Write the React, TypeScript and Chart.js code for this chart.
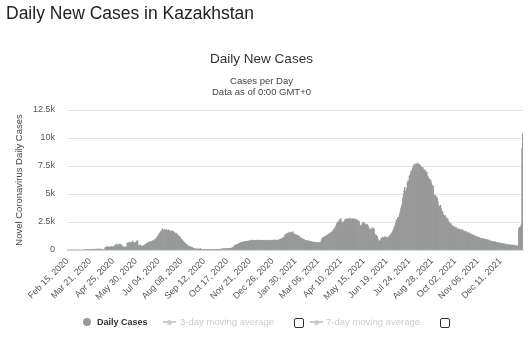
import React, { useEffect, useRef } from 'react';
import { Chart, registerables } from 'chart.js';

Chart.register(...registerables);

// First day of the series (Feb 15, 2020) and the spacing of the shown date ticks
const START_YEAR = 2020;
const START_MONTH = 1; // February (0-based)
const START_DAY = 15;
const TICK_EVERY = 35;
const MONTH_NAMES = ['Jan', 'Feb', 'Mar', 'Apr', 'May', 'Jun', 'Jul', 'Aug', 'Sep', 'Oct', 'Nov', 'Dec'];

const Y_MAX = 12500;
const Y_STEP = 2500;

// Daily new cases, one value per day from Feb 15, 2020
const DAILY_CASES = [
  0, 0, 0, 0, 0, 0, 0, 0, 0, 0,
  0, 0, 0, 0, 0, 0, 0, 0, 0, 0,
  0, 0, 0, 0, 0, 0, 0, 9, 4, 6,
  8, 17, 12, 16, 22, 11, 14, 29, 21, 25,
  38, 30, 44, 72, 65, 80, 58, 90, 76, 85,
  70, 62, 88, 40, 35, 45, 32, 38, 210, 260,
  240, 280, 300, 250, 270, 230, 290, 310, 260, 280,
  300, 270, 320, 420, 460, 380, 540, 450, 410, 500,
  470, 560, 430, 390, 450, 260, 240, 280, 250, 230,
  270, 320, 620, 650, 600, 700, 640, 620, 680, 660,
  810, 700, 650, 620, 680, 640, 720, 830, 790, 420,
  400, 380, 430, 390, 350, 300, 340, 380, 420, 460,
  500, 540, 560, 620, 660, 700, 680, 720, 760, 700,
  800, 830, 780, 850, 900, 1000, 960, 1080, 1180, 1250,
  1350, 1450, 1500, 1650, 1600, 1750, 1900, 1800, 1750, 1850,
  1700, 1780, 1820, 1750, 1680, 1800, 1720, 1760, 1650, 1700,
  1680, 1720, 1600, 1650, 1580, 1520, 1480, 1500, 1420, 1380,
  1300, 1250, 1200, 1150, 1050, 950, 900, 850, 780, 720,
  650, 600, 560, 480, 440, 400, 360, 330, 300, 280,
  250, 230, 200, 180, 140, 120, 100, 110, 90, 95,
  80, 85, 70, 90, 150, 60, 40, 50, 30, 40,
  35, 45, 40, 30, 50, 45, 38, 42, 55, 40,
  48, 52, 44, 50, 58, 46, 55, 60, 52, 48,
  58, 62, 55, 60, 66, 70, 64, 95, 105, 110,
  100, 115, 120, 108, 112, 125, 130, 118, 135, 140,
  130, 150, 170, 190, 220, 250, 300, 400, 430, 460,
  480, 500, 520, 560, 600, 620, 660, 640, 700, 680,
  720, 700, 740, 760, 730, 780, 800, 770, 790, 820,
  850, 820, 860, 840, 880, 830, 870, 850, 820, 860,
  840, 880, 860, 830, 870, 890, 850, 820, 860, 840,
  870, 850, 890, 860, 830, 870, 850, 880, 860, 820,
  850, 870, 840, 880, 860, 830, 870, 900, 860, 880,
  850, 870, 890, 860, 900, 880, 920, 960, 1000, 980,
  1050, 1100, 1080, 1150, 1300, 1400, 1380, 1450, 1500, 1420,
  1550, 1480, 1600, 1520, 1580, 1500, 1650, 1480, 1450, 1400,
  1350, 1400, 1300, 1280, 1320, 1250, 1200, 1150, 1100, 1050,
  1000, 1020, 980, 950, 900, 870, 850, 820, 800, 830,
  790, 780, 800, 760, 740, 720, 700, 730, 690, 680,
  660, 700, 650, 630, 680, 640, 620, 660, 700, 650,
  900, 1000, 1100, 1050, 1150, 1200, 1180, 1250, 1300, 1350,
  1280, 1400, 1450, 1500, 1480, 1550, 1600, 1650, 1750, 1850,
  1900, 2000, 2100, 2250, 2400, 2500, 2450, 2600, 2700, 2650,
  2800, 2500, 2450, 2400, 2500, 2550, 2700, 2750, 2650, 2800,
  2750, 2700, 2800, 2750, 2850, 2700, 2780, 2650, 2800, 2750,
  2700, 2800, 2650, 2750, 2600, 2700, 2650, 2500, 2550, 2200,
  2150, 2250, 2200, 2350, 2500, 2450, 2300, 2350, 2250, 2200,
  2300, 2250, 2100, 1950, 1850, 1800, 1900, 1750, 1950, 2000,
  1900, 1850, 1400, 1350, 1300, 1250, 1200, 950, 850, 800,
  780, 900, 1050, 1100, 1150, 1050, 1100, 1200, 1150, 1080,
  1100, 1150, 1050, 1120, 1200, 1300, 1350, 1450, 1500, 1600,
  1750, 1900, 2050, 2200, 2400, 2650, 2700, 2850, 2950, 2900,
  3200, 3400, 3700, 3900, 4100, 4600, 5000, 5300, 5600, 5200,
  5300, 5500, 6000, 6200, 6100, 6600, 6700, 6900, 7100, 7000,
  7300, 7500, 7600, 7550, 7700, 7500, 7650, 7750, 7600, 7700,
  7550, 7650, 7500, 7450, 7400, 7300, 7350, 7200, 7100, 7150,
  7000, 6900, 6950, 6600, 6500, 6400, 6300, 6200, 6250, 6000,
  5800, 5600, 5700, 4900, 4800, 4900, 4700, 4750, 4600, 4300,
  4000, 3800, 3900, 4000, 3700, 3500, 3400, 3200, 3100, 3000,
  3100, 2900, 2850, 2700, 2800, 2550, 2500, 2400, 2300, 2350,
  2200, 2150, 2100, 2050, 2000, 2100, 1950, 1900, 2000, 1850,
  1800, 1900, 1850, 1750, 1800, 1700, 1850, 1750, 1700, 1650,
  1600, 1700, 1650, 1550, 1500, 1600, 1450, 1500, 1400, 1450,
  1350, 1400, 1300, 1350, 1250, 1300, 1200, 1250, 1150, 1200,
  1100, 1150, 1050, 1100, 1000, 1050, 980, 1000, 1050, 950,
  1000, 920, 950, 900, 880, 920, 850, 880, 830, 800,
  820, 780, 760, 740, 760, 720, 700, 720, 680, 650,
  680, 640, 620, 650, 600, 580, 620, 560, 580, 550,
  530, 560, 510, 500, 520, 480, 490, 460, 470, 450,
  440, 460, 420, 410, 430, 400, 390, 410, 380, 370,
  360, 340, 380, 1900, 2000, 2050, 2100, 2300, 9100, 10400,
];

const PAGE_TITLE = 'Daily New Cases in Kazakhstan';
const CHART_TITLE = 'Daily New Cases';
const SUBTITLE_LINES = ['Cases per Day', 'Data as of 0:00 GMT+0'];
const Y_TITLE = 'Novel Coronavirus Daily Cases';
const LEGEND_MAIN = 'Daily Cases';
const LEGEND_3DAY = '3-day moving average';
const LEGEND_7DAY = '7-day moving average';

const FONT = "'Liberation Sans', Arial, sans-serif";
const BAR_COLOR = '#999999';

function makeDateLabels(n: number): string[] {
  const out: string[] = [];
  for (let i = 0; i < n; i++) {
    const d = new Date(Date.UTC(START_YEAR, START_MONTH, START_DAY + i));
    const day = String(d.getUTCDate()).padStart(2, '0');
    out.push(`${MONTH_NAMES[d.getUTCMonth()]} ${day}, ${d.getUTCFullYear()}`);
  }
  return out;
}

function formatK(v: number): string {
  if (v === 0) return '0';
  return `${v / 1000}k`;
}

export default function App() {
  const canvasRef = useRef<HTMLCanvasElement | null>(null);

  useEffect(() => {
    const canvas = canvasRef.current;
    if (!canvas) return;
    const labels = makeDateLabels(DAILY_CASES.length);
    const chart = new Chart(canvas, {
      type: 'bar',
      data: {
        labels,
        datasets: [
          {
            label: LEGEND_MAIN,
            data: DAILY_CASES,
            backgroundColor: BAR_COLOR,
            borderWidth: 0,
            barPercentage: 1,
            categoryPercentage: 1,
          },
        ],
      },
      options: {
        responsive: false,
        animation: false,
        devicePixelRatio: 1,
        layout: { padding: { top: 51, left: 0, right: 7, bottom: 27 } },
        plugins: {
          legend: { display: false },
          tooltip: { enabled: false },
          title: {
            display: true,
            text: CHART_TITLE,
            color: '#333333',
            font: { family: FONT, size: 13.5, weight: 'normal' },
            padding: { top: 0, bottom: 8 },
          },
          subtitle: {
            display: true,
            text: SUBTITLE_LINES,
            color: '#444444',
            font: { family: FONT, size: 9.5, weight: 'normal' },
            padding: { top: 0, bottom: 12 },
          },
        },
        scales: {
          x: {
            grid: { display: false, drawTicks: false },
            border: { display: true, color: '#ccd6eb', width: 1 },
            ticks: {
              autoSkip: false,
              minRotation: 45,
              maxRotation: 45,
              padding: 6,
              color: '#555555',
              font: { family: FONT, size: 9 },
              callback: (_v: any, idx: number) => (idx % TICK_EVERY === 0 ? labels[idx] : ''),
            },
            afterFit: (s: any) => {
              s.height = 60;
              s.paddingLeft = 0;
              s.paddingRight = 0;
            },
          },
          y: {
            min: 0,
            max: Y_MAX,
            grid: { color: '#e6e6e6', drawTicks: false },
            border: { display: false },
            ticks: {
              stepSize: Y_STEP,
              padding: 12,
              color: '#555555',
              font: { family: FONT, size: 9 },
              callback: (v: any) => formatK(Number(v)),
            },
            title: {
              display: true,
              text: Y_TITLE,
              color: '#444444',
              font: { family: FONT, size: 9.5 },
              padding: { top: 14, bottom: 0 },
            },
            afterFit: (s: any) => {
              s.width = 67;
            },
          },
        },
      },
    });
    return () => chart.destroy();
  }, []);

  const legendText: React.CSSProperties = {
    position: 'absolute',
    top: 316,
    height: 12,
    lineHeight: '12px',
    fontFamily: FONT,
    whiteSpace: 'nowrap',
  };
  const box: React.CSSProperties = {
    position: 'absolute',
    top: 318,
    width: 8,
    height: 8,
    border: '1px solid #333',
    borderRadius: 2,
    background: '#fff',
  };

  return (
    <div style={{ position: 'absolute', left: 0, top: 0, width: 530, height: 337, background: '#fff', overflow: 'hidden' }}>
      <canvas ref={canvasRef} width={530} height={337} style={{ position: 'absolute', left: 0, top: 0, width: 530, height: 337 }} />
      <div
        style={{
          position: 'absolute',
          left: 6,
          top: 5,
          fontFamily: FONT,
          fontSize: 17.5,
          lineHeight: '17.5px',
          color: '#222',
          whiteSpace: 'nowrap',
        }}
      >
        {PAGE_TITLE}
      </div>
      {/* legend */}
      <div style={{ position: 'absolute', left: 83, top: 318, width: 8, height: 8, borderRadius: '50%', background: BAR_COLOR }} />
      <div style={{ ...legendText, left: 97, fontSize: 9, fontWeight: 'bold', color: '#333' }}>{LEGEND_MAIN}</div>
      <div style={{ position: 'absolute', left: 163, top: 321, width: 13, height: 2, background: '#cccccc' }} />
      <div style={{ position: 'absolute', left: 167, top: 319.5, width: 5, height: 5, borderRadius: '50%', background: '#cccccc' }} />
      <div style={{ ...legendText, left: 180, fontSize: 9.5, color: '#cccccc' }}>{LEGEND_3DAY}</div>
      <div style={{ ...box, left: 294 }} />
      <div style={{ position: 'absolute', left: 310, top: 321, width: 13, height: 2, background: '#cccccc' }} />
      <div style={{ position: 'absolute', left: 314, top: 319.5, width: 5, height: 5, borderRadius: '50%', background: '#cccccc' }} />
      <div style={{ ...legendText, left: 326, fontSize: 9.5, color: '#cccccc' }}>{LEGEND_7DAY}</div>
      <div style={{ ...box, left: 440 }} />
    </div>
  );
}
